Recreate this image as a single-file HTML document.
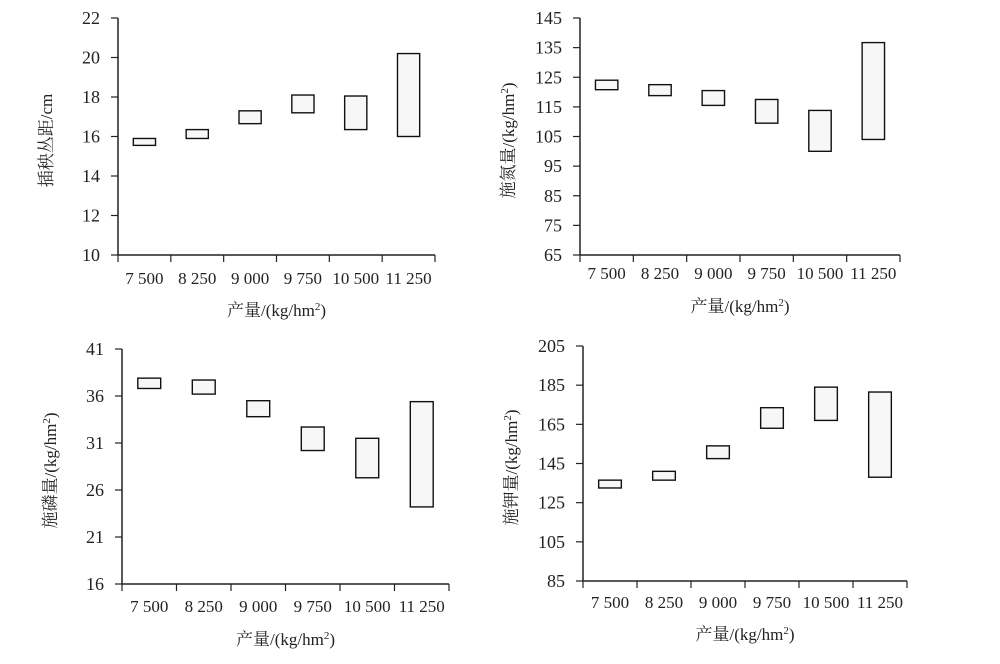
<!DOCTYPE html>
<html><head><meta charset="utf-8"><style>
body{margin:0;background:#fff;width:1000px;height:659px;overflow:hidden}
svg text{font-family:"Liberation Serif","Noto Serif CJK SC",serif;fill:#222}
</style></head><body>
<svg id="s" width="1000" height="659"></svg>
<script>
const categories=["7 500","8 250","9 000","9 750","10 500","11 250"];
const spacingLow=[15.55,15.9,16.65,17.2,16.35,16.0];
const spacingHigh=[15.9,16.35,17.3,18.1,18.05,20.2];
const spacingTicks=[10,12,14,16,18,20,22];
const nLow=[120.8,118.8,115.5,109.5,100,104];
const nHigh=[124,122.5,120.5,117.5,113.8,136.7];
const nTicks=[65,75,85,95,105,115,125,135,145];
const pLow=[36.8,36.2,33.8,30.2,27.3,24.2];
const pHigh=[37.9,37.7,35.5,32.7,31.5,35.4];
const pTicks=[16,21,26,31,36,41];
const kLow=[132.5,136.5,147.5,163,167,138];
const kHigh=[136.5,141,154,173.5,184,181.5];
const kTicks=[85,105,125,145,165,185,205];

const NS="http://www.w3.org/2000/svg";
const svg=document.getElementById('s');
function mk(tag,attrs,parent){const e=document.createElementNS(NS,tag);for(const k in attrs)e.setAttribute(k,attrs[k]);(parent||svg).appendChild(e);return e;}

function chart(name,cfg,lows,highs,ticks,ytitle){
  const g=mk('g',{});
  
  
  const {x0,x1,y0,y1,labY,titY}=cfg;
  const vmin=ticks[0],vmax=ticks[ticks.length-1];
  const ys=v=>y0-(v-vmin)/(vmax-vmin)*(y0-y1);
  const band=(x1-x0)/categories.length;
  const xs=i=>x0+band*(i+0.5);
  const ya=mk('line',{x1:x0,y1:y1,x2:x0,y2:y0,stroke:'#222','stroke-width':1.5},g);
  
  
  const xa=mk('line',{x1:x0,y1:y0,x2:x1,y2:y0,stroke:'#222','stroke-width':1.5},g);
  
  
  ticks.forEach(t=>{
    mk('line',{x1:x0-7,y1:ys(t),x2:x0,y2:ys(t),stroke:'#222','stroke-width':1.2},g);
    const tx=mk('text',{x:x0-18,y:ys(t)+6,'text-anchor':'end','font-size':18},g);
    tx.textContent=t;
    
    
  });
  for(let i=0;i<=categories.length;i++){
    const x=x0+band*i;
    mk('line',{x1:x,y1:y0,x2:x,y2:y0+7,stroke:'#222','stroke-width':1.2},g);
  }
  categories.forEach((c,i)=>{
    const tx=mk('text',{x:xs(i),y:labY,'text-anchor':'middle','font-size':17},g);
    tx.textContent=c;
    
    
    const r=mk('rect',{x:xs(i)-band*0.21,width:band*0.42,y:ys(highs[i]),height:ys(lows[i])-ys(highs[i]),fill:'#f7f7f7',stroke:'#111','stroke-width':1.4},g);
    
    
  });
  const xt=mk('text',{x:(x0+x1)/2,y:titY,'text-anchor':'middle','font-size':17},g);
  xt.innerHTML='产量/(kg/hm<tspan baseline-shift="super" font-size="11">2</tspan>)';
  
  
  const yt=mk('text',{x:0,y:0,'text-anchor':'middle','font-size':17,transform:`translate(${x0-66},${(y0+y1)/2+4}) rotate(-90)`},g);
  yt.innerHTML=ytitle;
  
  
}
chart('spacing-chart',{x0:118,x1:435,y0:255,y1:18,labY:284,titY:316},spacingLow,spacingHigh,spacingTicks,'插秧丛距/cm');
chart('nitrogen-chart',{x0:580,x1:900,y0:255,y1:18,labY:279,titY:312},nLow,nHigh,nTicks,'施氮量/(kg/hm<tspan baseline-shift="super" font-size="11">2</tspan>)');
chart('phosphorus-chart',{x0:122,x1:449,y0:584,y1:349,labY:612,titY:645},pLow,pHigh,pTicks,'施磷量/(kg/hm<tspan baseline-shift="super" font-size="11">2</tspan>)');
chart('potassium-chart',{x0:583,x1:907,y0:581,y1:346,labY:608,titY:640},kLow,kHigh,kTicks,'施钾量/(kg/hm<tspan baseline-shift="super" font-size="11">2</tspan>)');
</script>
</body></html>
